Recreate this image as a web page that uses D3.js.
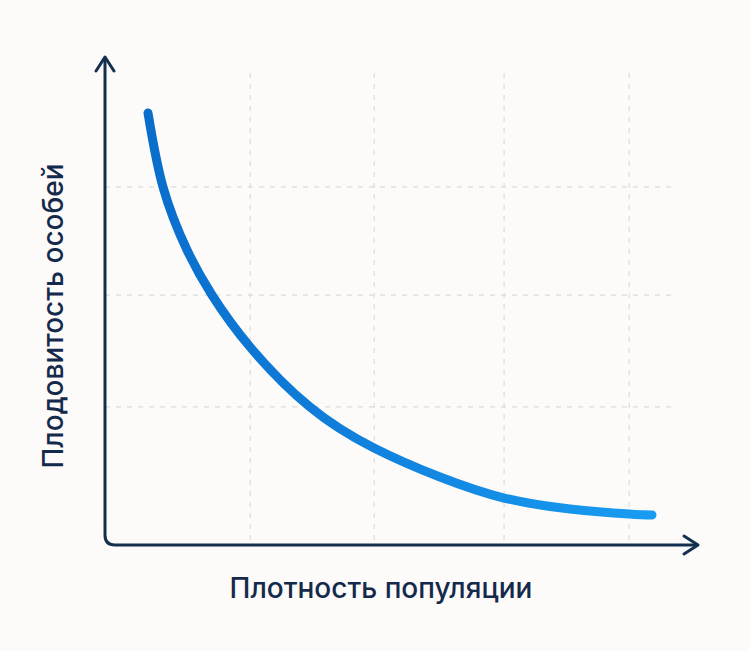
<!DOCTYPE html>
<html>
<head>
<meta charset="utf-8">
<script src="https://cdn.jsdelivr.net/npm/d3@7"></script>
<style>
  html, body { margin: 0; padding: 0; background: #fcfbf9; }
  svg { display: block; }
</style>
</head>
<body>
<script>
// curve (unitless, 0..10 on both axes)
const density = [0.725, 0.978, 1.383, 1.804, 2.445, 3.457, 4.536, 5.649, 6.728, 7.841, 8.836, 9.224];
const fertility = [8.852, 7.336, 6.045, 5.123, 4.06, 2.828, 1.988, 1.393, 0.963, 0.738, 0.635, 0.615];

// dashed grid positions
const xGrid = [2.45, 4.54, 6.73, 8.84];
const yGrid = [2.83, 5.12, 7.34];

const xLabel = "Плотность популяции";
const yLabel = "Плодовитость особей";

const width = 750, height = 651;
const ink = "#14304f";

const svg = d3.select("body")
  .append("svg")
  .attr("width", width)
  .attr("height", height);

svg.append("rect")
  .attr("width", width)
  .attr("height", height)
  .attr("fill", "#fcfbf9");

const x = d3.scaleLinear().domain([0, 10]).range([105, 698]);
const y = d3.scaleLinear().domain([0, 10]).range([545, 57]);

const gridTop = 73, gridRight = 677;

// grid
svg.append("g")
  .selectAll("line")
  .data(xGrid)
  .join("line")
  .attr("x1", d => x(d)).attr("x2", d => x(d))
  .attr("y1", gridTop).attr("y2", y(0))
  .attr("stroke", "#dcdcdc")
  .attr("stroke-width", 1.2)
  .attr("stroke-dasharray", "5,6");

svg.append("g")
  .selectAll("line")
  .data(yGrid)
  .join("line")
  .attr("x1", x(0)).attr("x2", gridRight)
  .attr("y1", d => y(d)).attr("y2", d => y(d))
  .attr("stroke", "#dcdcdc")
  .attr("stroke-width", 1.2)
  .attr("stroke-dasharray", "5,6");

// curve gradient
const grad = svg.append("defs")
  .append("linearGradient")
  .attr("id", "curveGrad")
  .attr("gradientUnits", "userSpaceOnUse")
  .attr("x1", x(density[0])).attr("y1", 0)
  .attr("x2", x(density[density.length - 1])).attr("y2", 0);
grad.append("stop").attr("offset", "0%").attr("stop-color", "#0a6dcc");
grad.append("stop").attr("offset", "100%").attr("stop-color", "#189cf2");

const pts = density.map((d, i) => [d, fertility[i]]);

const line = d3.line()
  .x(d => x(d[0]))
  .y(d => y(d[1]))
  .curve(d3.curveNatural);

svg.append("path")
  .datum(pts)
  .attr("d", line)
  .attr("fill", "none")
  .attr("stroke", "url(#curveGrad)")
  .attr("stroke-width", 9)
  .attr("stroke-linecap", "round");

// axes with rounded origin
const r = 10;
const ox = x(0), oy = y(0);
svg.append("path")
  .attr("d", `M${ox},${y(10)} L${ox},${oy - r} Q${ox},${oy} ${ox + r},${oy} L${x(10)},${oy}`)
  .attr("fill", "none")
  .attr("stroke", ink)
  .attr("stroke-width", 3);

// arrowheads
svg.append("path")
  .attr("d", `M${ox - 9},${y(10) + 14} L${ox},${y(10)} L${ox + 9},${y(10) + 14}`)
  .attr("fill", "none")
  .attr("stroke", ink)
  .attr("stroke-width", 3)
  .attr("stroke-linecap", "round")
  .attr("stroke-linejoin", "round");

svg.append("path")
  .attr("d", `M${x(10) - 14},${oy - 9} L${x(10)},${oy} L${x(10) - 14},${oy + 9}`)
  .attr("fill", "none")
  .attr("stroke", ink)
  .attr("stroke-width", 3)
  .attr("stroke-linecap", "round")
  .attr("stroke-linejoin", "round");

// labels
svg.append("text")
  .attr("x", 381)
  .attr("y", 598)
  .attr("text-anchor", "middle")
  .attr("font-family", "Inter, 'Noto Sans', sans-serif")
  .attr("font-weight", 500)
  .attr("font-size", 28)
  .attr("fill", "#15294a")
  .text(xLabel);

svg.append("text")
  .attr("transform", "translate(63,316) rotate(-90)")
  .attr("text-anchor", "middle")
  .attr("font-family", "Inter, 'Noto Sans', sans-serif")
  .attr("font-weight", 500)
  .attr("font-size", 28)
  .attr("fill", "#15294a")
  .text(yLabel);
</script>
</body>
</html>
